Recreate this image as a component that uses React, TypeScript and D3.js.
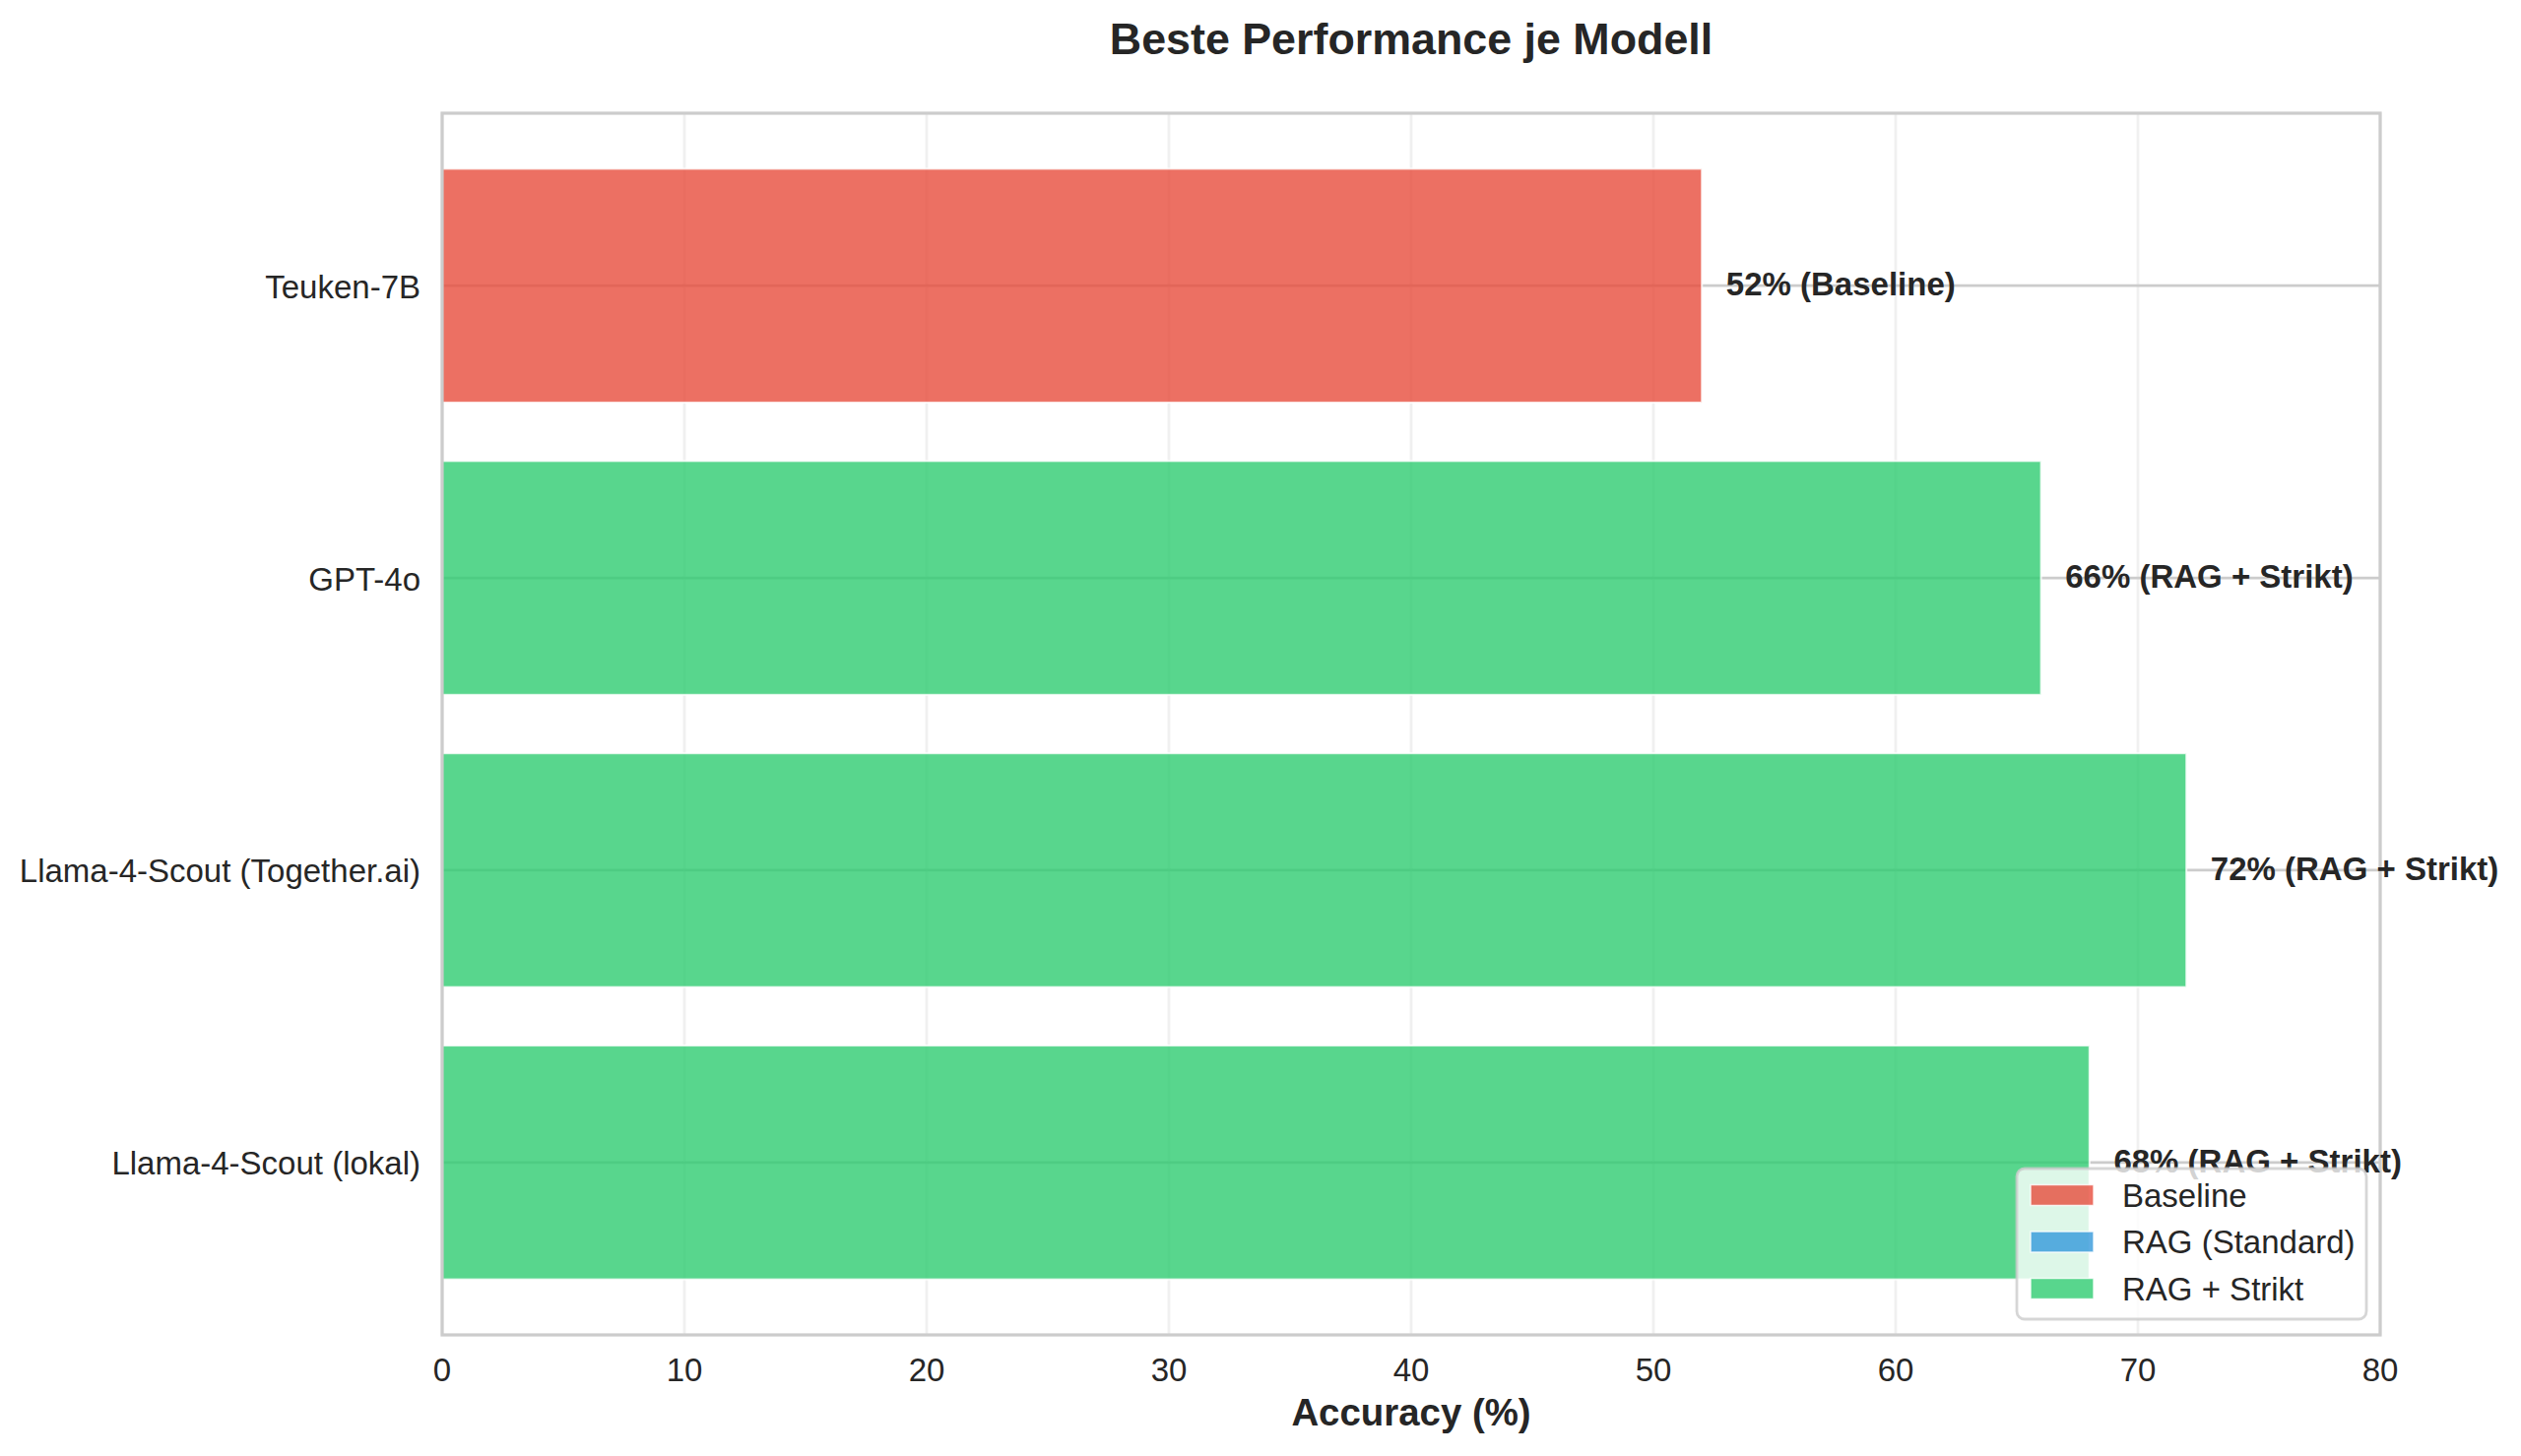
import React from "react";
import * as d3 from "d3";

const models = ["Teuken-7B", "GPT-4o", "Llama-4-Scout (Together.ai)", "Llama-4-Scout (lokal)"];
const accuracy = [52, 66, 72, 68];
const bestMethod = ["Baseline", "RAG + Strikt", "RAG + Strikt", "RAG + Strikt"];
const methods = ["Baseline", "RAG (Standard)", "RAG + Strikt"];
const methodColors = ["#e74c3c", "#3498db", "#2ecc71"];
const xTicks = [0, 10, 20, 30, 40, 50, 60, 70, 80];

const W = 2560;
const H = 1479;
const L = 449;
const R = 2417;
const T = 115;
const B = 1356;
const FONT = "'Liberation Sans', Arial, sans-serif";
const TXT = "#262626";

export default function App() {
  const x = d3.scaleLinear().domain([0, 80]).range([L, R]);
  const y = d3.scaleLinear().domain([-0.59, 3.59]).range([T, B]);
  const color = d3.scaleOrdinal<string, string>().domain(methods).range(methodColors);
  const barH = y(0.4) - y(-0.4);

  const legW = 355;
  const legH = 153;
  const legX = R - 14 - legW;
  const legY = B - 16 - legH;
  const rowGap = 47.5;

  return (
    <svg width={W} height={H} style={{ position: "absolute", left: 0, top: 0, background: "#fff" }} fontFamily={FONT}>
      <rect x={0} y={0} width={W} height={H} fill="#fff" />
      {/* x grid */}
      {xTicks.map((t) => (
        <line key={"gx" + t} x1={x(t)} x2={x(t)} y1={T} y2={B} stroke="#cccccc" strokeOpacity={0.3} strokeWidth={2.8} />
      ))}
      {/* y grid */}
      {models.map((m, i) => (
        <line key={"gy" + i} x1={L} x2={R} y1={y(i)} y2={y(i)} stroke="#cccccc" strokeWidth={2.8} />
      ))}
      {/* bars */}
      {models.map((m, i) => (
        <rect
          key={"b" + i}
          x={x(0)}
          y={y(i) - barH / 2}
          width={x(accuracy[i]) - x(0)}
          height={barH}
          fill={color(bestMethod[i])}
          fillOpacity={0.8}
          stroke="#ffffff"
          strokeOpacity={0.8}
          strokeWidth={2}
        />
      ))}
      {/* spines */}
      <rect x={L} y={T} width={R - L} height={B - T} fill="none" stroke="#cccccc" strokeWidth={3.2} />
      {/* bar labels */}
      {models.map((m, i) => (
        <text key={"l" + i} x={x(accuracy[i] + 1)} y={y(i) + 10} fontSize={33} fontWeight="bold" fill={TXT}>
          {`${accuracy[i]}% (${bestMethod[i]})`}
        </text>
      ))}
      {/* y tick labels */}
      {models.map((m, i) => (
        <text key={"yt" + i} x={L - 22} y={y(i) + 12.5} fontSize={33} textAnchor="end" fill={TXT}>
          {m}
        </text>
      ))}
      {/* x tick labels */}
      {xTicks.map((t) => (
        <text key={"xt" + t} x={x(t)} y={1403} fontSize={33} textAnchor="middle" fill={TXT}>
          {t}
        </text>
      ))}
      <text x={(L + R) / 2} y={1448} fontSize={38.4} fontWeight="bold" textAnchor="middle" fill={TXT}>
        Accuracy (%)
      </text>
      <text x={(L + R) / 2} y={55} fontSize={44.8} fontWeight="bold" textAnchor="middle" fill={TXT}>
        Beste Performance je Modell
      </text>
      {/* legend */}
      <g>
        <rect x={legX} y={legY} width={legW} height={legH} rx={8} ry={8} fill="#ffffff" fillOpacity={0.8} stroke="#cccccc" strokeOpacity={0.8} strokeWidth={2.8} />
        {methods.map((m, k) => {
          const cy = legY + 27 + k * rowGap;
          return (
            <g key={"lg" + k}>
              <rect x={legX + 14} y={cy - 10.5} width={64} height={21} fill={methodColors[k]} fillOpacity={0.8} stroke="#ffffff" strokeOpacity={0.8} strokeWidth={1.5} />
              <text x={legX + 107} y={cy + 11.5} fontSize={33} fill={TXT}>
                {m}
              </text>
            </g>
          );
        })}
      </g>
    </svg>
  );
}
